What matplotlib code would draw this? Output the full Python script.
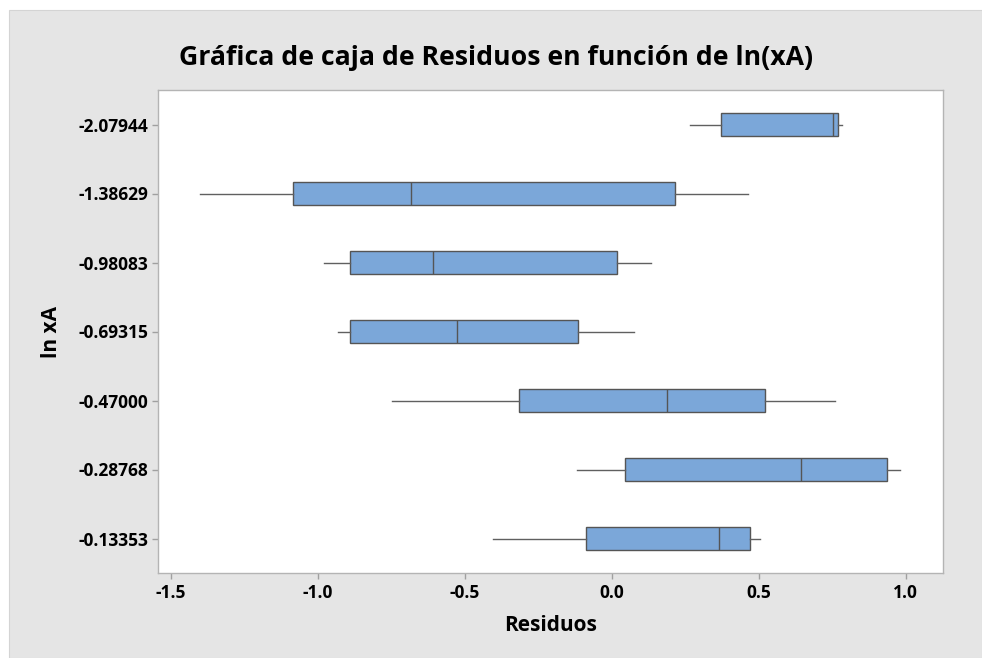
import matplotlib
matplotlib.use("Agg")
import matplotlib.pyplot as plt
from matplotlib.patches import Rectangle

# Data (top to bottom as shown)
categories = ['-2.07944', '-1.38629', '-0.98083', '-0.69315', '-0.47000', '-0.28768', '-0.13353']
whisker_low = [0.266, -1.401, -0.979, -0.932, -0.747, -0.117, -0.405]
q1 = [0.371, -1.083, -0.892, -0.892, -0.314, 0.046, -0.087]
median = [0.754, -0.684, -0.608, -0.528, 0.187, 0.643, 0.366]
q3 = [0.770, 0.215, 0.017, -0.115, 0.522, 0.938, 0.470]
whisker_high = [0.784, 0.465, 0.135, 0.076, 0.761, 0.980, 0.505]
x_ticks = [-1.5, -1.0, -0.5, 0.0, 0.5, 1.0]
x_tick_labels = ['-1.5', '-1.0', '-0.5', '0.0', '0.5', '1.0']

plt.rcParams['font.family'] = ['Open Sans', 'DejaVu Sans']

W, H = 982, 658
fig = plt.figure(figsize=(W / 100, H / 100), dpi=100, facecolor='white')
bg = Rectangle((9 / W, 0), 1 - 9 / W, 1 - 10 / H, transform=fig.transFigure,
               facecolor='#E5E5E5', edgecolor='#D4D4D4', linewidth=0.8, zorder=-10)
fig.patches.append(bg)

ax = fig.add_axes([158 / W, 1 - 573 / H, (943 - 158) / W, (573 - 90) / H], zorder=5)
ax.set_facecolor('white')

stats = []
for i, lab in enumerate(categories):
    stats.append(dict(label=lab, whislo=whisker_low[i], q1=q1[i], med=median[i],
                      q3=q3[i], whishi=whisker_high[i], fliers=[]))
positions = list(range(1, len(categories) + 1))

ax.bxp(stats, positions=positions, vert=False, widths=0.33, patch_artist=True,
       showcaps=False, showfliers=False,
       boxprops=dict(facecolor='#7BA7D9', edgecolor='#555555', linewidth=1.0),
       medianprops=dict(color='#555555', linewidth=1.0),
       whiskerprops=dict(color='#606060', linewidth=1.0))

ax.set_ylim(len(categories) + 0.5, 0.5)
ax.set_xlim(-1.544, 1.127)
ax.set_yticks(positions)
ax.set_yticklabels(categories)
ax.set_xticks(x_ticks)
ax.set_xticklabels(x_tick_labels)

for sp in ax.spines.values():
    sp.set_color('#B4B4B4')
    sp.set_linewidth(1.0)
ax.tick_params(axis='both', colors='#A0A0A0', length=4, width=1, labelcolor='black',
               labelsize=12.5)
for lab in ax.get_xticklabels() + ax.get_yticklabels():
    lab.set_fontweight('bold')
ax.tick_params(axis='x', pad=4)
ax.tick_params(axis='y', pad=3)

ax.set_xlabel('Residuos', fontsize=15, fontweight='bold', labelpad=9)
ax.set_ylabel('ln xA', fontsize=15, fontweight='bold', labelpad=12)
fig.text(496 / W, 1 - 58 / H, 'Gráfica de caja de Residuos en función de ln(xA)',
         ha='center', va='center', fontsize=19.2, fontweight='bold')

fig.savefig('out.png', dpi=100, facecolor=fig.get_facecolor())
